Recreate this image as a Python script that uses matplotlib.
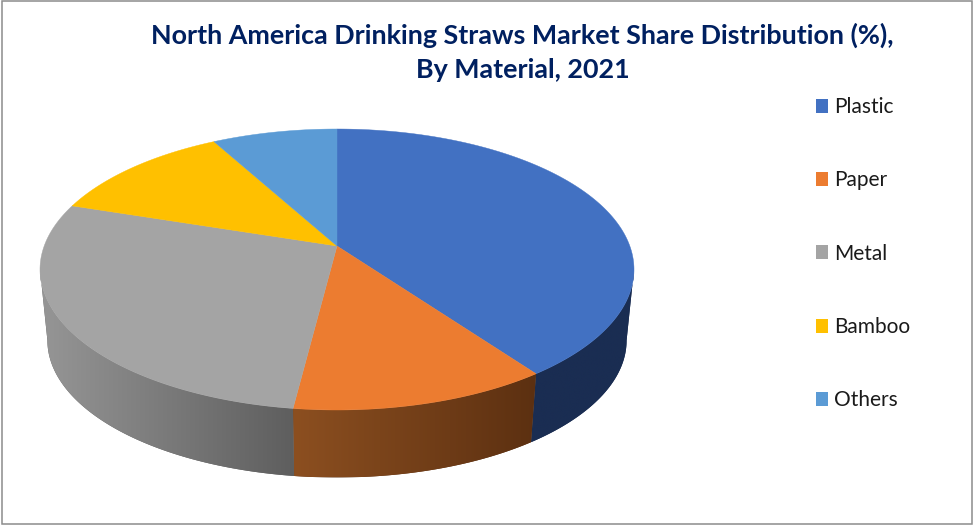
import matplotlib.pyplot as plt
import numpy as np
from matplotlib.colors import LinearSegmentedColormap
from matplotlib.patches import Patch, Polygon, Rectangle

plt.rcParams["font.family"] = ["Lato", "DejaVu Sans"]

materials = ["Plastic", "Paper", "Metal", "Bamboo", "Others"]
shares = [40, 12, 28, 12, 8]

top_colors = ["#4271C2", "#EC7C30", "#A4A4A4", "#FFC000", "#5B9BD5"]
# wall shading goes from left end to right end of each visible slice
wall_left = ["#1A2D52", "#8C4F20", "#969696", "#7F6000", "#2E5C85"]
wall_right = ["#1A2D52", "#5C3011", "#5E5E5E", "#7F6000", "#2E5C85"]
title_color = "#002060"

# pie in pixel coordinates, tilted with a little perspective
CX, APEX_Y, RIM_TOP, RIM_BOTTOM = 337, 246, 129, 410
HALF_WIDTH = 297
DEPTH_Y, DEPTH_SCALE = 71, 0.975
K = (RIM_TOP + RIM_BOTTOM - 2 * APEX_Y) / (RIM_BOTTOM - RIM_TOP)


def project(theta):
    """Map clockwise-from-top angles on the unit circle to picture coordinates."""
    u, v = np.sin(theta), np.cos(theta)
    a = APEX_Y - RIM_TOP * (1 + K)
    b = HALF_WIDTH * np.sqrt(1 - K**2)
    w = 1 + K * v
    return CX + b * u / w, (APEX_Y - a * v) / w


def project_bottom(theta):
    x, y = project(theta)
    mid = (RIM_TOP + RIM_BOTTOM) / 2
    return CX + DEPTH_SCALE * (x - CX), mid + DEPTH_Y + DEPTH_SCALE * (y - mid)


def draw_walls(ax, edges):
    # visible part of the wall runs between the two silhouette points
    start = np.pi / 2 + np.arcsin(K)
    end = 3 * np.pi / 2 - np.arcsin(K)
    for i in range(len(shares)):
        lo, hi = max(edges[i], start), min(edges[i + 1], end)
        if hi <= lo:
            continue
        theta = np.linspace(lo, hi, 200)
        xt, yt = project(theta)
        xb, yb = project_bottom(theta)
        outline = np.column_stack([np.concatenate([xt, xb[::-1]]), np.concatenate([yt, yb[::-1]])])
        clip = Polygon(outline, closed=True, facecolor=wall_right[i], edgecolor="none", zorder=2)
        ax.add_patch(clip)
        # horizontal gradient, cut to the shape of the wall
        cmap = LinearSegmentedColormap.from_list("wall", [wall_left[i], wall_right[i]])
        img = ax.imshow(
            np.linspace(0, 1, 256)[None, :],
            extent=(outline[:, 0].min(), outline[:, 0].max(), outline[:, 1].max(), outline[:, 1].min()),
            cmap=cmap,
            aspect="auto",
            zorder=2.1,
            interpolation="bilinear",
        )
        img.set_clip_path(clip)


fig = plt.figure(figsize=(9.73, 5.25), dpi=100)
ax = fig.add_axes([0, 0, 1, 1])

edges = np.concatenate([[0], np.cumsum(shares)]) / np.sum(shares) * 2 * np.pi
draw_walls(ax, edges)

ax.set_xlim(0, 973)
ax.set_ylim(525, 0)
ax.axis("off")

for i, color in enumerate(top_colors):
    theta = np.linspace(edges[i], edges[i + 1], 200)
    x, y = project(theta)
    ax.fill(
        np.concatenate([[CX], x]),
        np.concatenate([[APEX_Y], y]),
        facecolor=color,
        edgecolor=color,
        linewidth=0.3,
        zorder=3,
    )

ax.text(
    522.5,
    52.5,
    "North America Drinking Straws Market Share Distribution (%),\nBy Material, 2021",
    ha="center",
    va="center",
    fontsize=19.4,
    fontweight="bold",
    color=title_color,
    linespacing=1.5,
)

handles = [Patch(facecolor=c, edgecolor="none", label=m) for c, m in zip(top_colors, materials)]
ax.legend(
    handles=handles,
    loc="upper left",
    bbox_to_anchor=(816, 97),
    bbox_transform=ax.transData,
    frameon=False,
    fontsize=15,
    handlelength=0.58,
    handleheight=0.66,
    handletextpad=0.27,
    labelspacing=2.56,
    borderpad=0,
    borderaxespad=0,
    labelcolor="#1a1a1a",
)

ax.add_patch(Rectangle((2, 0.7), 970, 523.5, fill=False, edgecolor="#8c8c8c", linewidth=1.1, zorder=5))

fig.savefig("out.png", dpi=100)
